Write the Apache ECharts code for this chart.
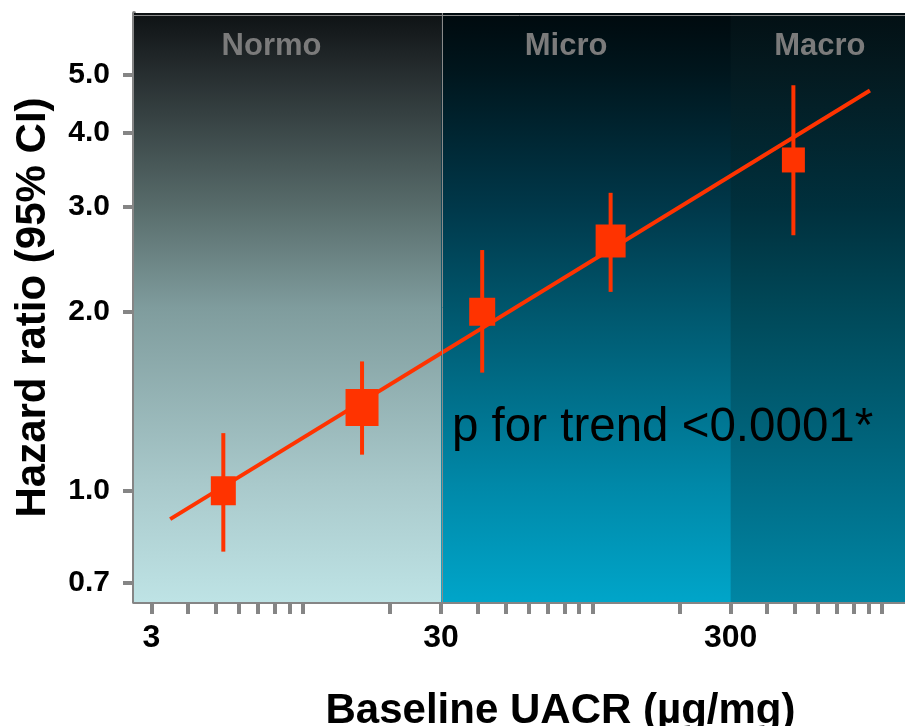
<!DOCTYPE html>
<html>
<head>
<meta charset="utf-8">
<script src="https://cdn.jsdelivr.net/npm/echarts@6/dist/echarts.min.js"></script>
<style>html,body{margin:0;padding:0;background:#fff;}#chart{width:905px;height:726px;}</style>
</head>
<body>
<div id="chart"></div>
<script>
// ---- data ----
const uacr   = [5.31, 16.0, 41.6, 115.5, 494];     // µg/mg, group centres
const hr     = [1.00, 1.38, 2.00, 2.63, 3.60];     // hazard ratio
const ciLow  = [0.79, 1.15, 1.58, 2.16, 2.69];
const ciHigh = [1.25, 1.65, 2.54, 3.17, 4.81];
const trendUacr = [3.48, 908];
const trendHr   = [0.896, 4.71];
const regionNames  = ['Normo', 'Micro', 'Macro'];
const regionBreaks = [30, 300];
const xTickValues  = [3,4,5,6,7,8,9,10,20,30,40,50,60,70,80,90,100,200,300,400,500,600,700,800,900,1000];
const xLabelValues = [3, 30, 300];
const yLabelValues = [0.7, 1.0, 2.0, 3.0, 4.0, 5.0];
const xRange = [2.61, 1200];
const yRange = [0.65, 6.36];
const annotation = 'p for trend <0.0001*';

// ---- styles ----
const markerSizes = [[25, 29], [33, 37], [26, 28], [30, 33], [23, 25]];
const RED = '#ff3300';
const AXIS = '#858585';
const L = Math.log10;

function grad(stops) {
  return { type: 'linear', x: 0, y: 0, x2: 0, y2: 1,
    colorStops: stops.map(s => ({ offset: s[0], color: s[1] })) };
}
const regionColors = [
  grad([[0, '#0e1214'], [0.1, '#262d2f'], [0.33, '#586c6b'], [0.5, '#7f9c9d'], [0.8, '#a9c9cb'], [1, '#bee3e5']]),
  grad([[0, '#000a0e'], [0.1, '#00161d'], [0.33, '#00384a'], [0.5, '#00566c'], [0.8, '#0088a8'], [1, '#00a5c9']]),
  grad([[0, '#031014'], [0.1, '#041a20'], [0.33, '#00303d'], [0.5, '#004858'], [0.8, '#006d87'], [1, '#0086a4']])
];

// regions are layered (each later one drawn over the previous) to avoid seams
const xMinL = L(xRange[0]), xMaxL = L(xRange[1]);
const starts = [xMinL].concat(regionBreaks.map(L));
const ends = [L(regionBreaks[0]), xMaxL, xMaxL];
const labelOffsets = [-16, -107, 2];
const areaData = regionNames.map((name, i) => [
  { name: name, xAxis: starts[i], itemStyle: { color: regionColors[i] },
    label: { offset: [labelOffsets[i], 0] } },
  { xAxis: ends[i] }
]);

const chart = echarts.init(document.getElementById('chart'), null, { renderer: 'canvas' });
chart.setOption({
  animation: false,
  backgroundColor: '#ffffff',
  grid: { left: 134, right: 0, top: 13, bottom: 124, containLabel: false, outerBoundsMode: 'none' },
  xAxis: {
    type: 'value',
    min: xMinL, max: xMaxL,
    name: 'Baseline UACR (µg/mg)',
    nameLocation: 'middle',
    nameGap: 88,
    nameTextStyle: { fontFamily: 'Liberation Sans', fontWeight: 'bold', fontSize: 42, color: '#000', padding: [0, 0, 0, 82] },
    axisLine: { show: true, onZero: false, lineStyle: { color: AXIS, width: 4 } },
    axisTick: { show: true, customValues: xTickValues.map(L), length: 12, lineStyle: { color: AXIS, width: 4 } },
    axisLabel: {
      customValues: xLabelValues.map(L),
      formatter: v => String(Math.round(Math.pow(10, v))),
      fontFamily: 'Liberation Sans', fontWeight: 'bold', fontSize: 32, color: '#000', margin: 20
    },
    splitLine: { show: false }
  },
  yAxis: {
    type: 'value',
    min: L(yRange[0]), max: L(yRange[1]),
    name: 'Hazard ratio (95% CI)',
    nameLocation: 'middle',
    nameRotate: 90,
    nameGap: 80,
    nameTextStyle: { fontFamily: 'Liberation Sans', fontWeight: 'bold', fontSize: 42, color: '#000' },
    axisLine: { show: true, onZero: false, lineStyle: { color: AXIS, width: 4 } },
    axisTick: { show: true, customValues: yLabelValues.map(L), length: 11, lineStyle: { color: AXIS, width: 4 } },
    axisLabel: {
      customValues: yLabelValues.map(L),
      formatter: v => Math.pow(10, v).toFixed(1),
      fontFamily: 'Liberation Sans', fontWeight: 'bold', fontSize: 30, color: '#000', margin: 24
    },
    splitLine: { show: false }
  },
  graphic: [{
    type: 'text', left: 452, top: 404, z: 100,
    style: { text: annotation, fontFamily: 'Liberation Sans', fontSize: 47.5, fill: '#000' }
  }],
  series: [
    {
      type: 'line',
      name: 'trend',
      data: trendUacr.map((u, i) => [L(u), L(trendHr[i])]),
      symbol: 'none',
      lineStyle: { color: RED, width: 4 },
      z: 3,
      markArea: {
        silent: true,
        z: 1,
        label: {
          show: true, position: 'insideTop', distance: 18,
          fontFamily: 'Liberation Sans', fontWeight: 'bold', fontSize: 31, color: '#7b7b7b'
        },
        data: areaData
      },
      markLine: {
        silent: true, symbol: 'none', label: { show: false },
        lineStyle: { color: '#8a8a8a', width: 1, type: 'solid' },
        data: [{ xAxis: L(regionBreaks[0]) }, { yAxis: L(yRange[1]) }]
      }
    },
    {
      type: 'custom',
      name: 'ci',
      z: 4,
      data: uacr.map((u, i) => [L(u), L(ciLow[i]), L(ciHigh[i])]),
      renderItem: function (params, api) {
        const lo = api.coord([api.value(0), api.value(1)]);
        const hi = api.coord([api.value(0), api.value(2)]);
        return { type: 'line', shape: { x1: lo[0], y1: lo[1], x2: hi[0], y2: hi[1] },
          style: { stroke: RED, lineWidth: 4 } };
      }
    },
    {
      type: 'scatter',
      name: 'HR',
      z: 5,
      symbol: 'rect',
      symbolSize: (v, p) => markerSizes[p.dataIndex],
      itemStyle: { color: RED, opacity: 1 },
      data: uacr.map((u, i) => [L(u), L(hr[i])])
    }
  ]
});
</script>
</body>
</html>
